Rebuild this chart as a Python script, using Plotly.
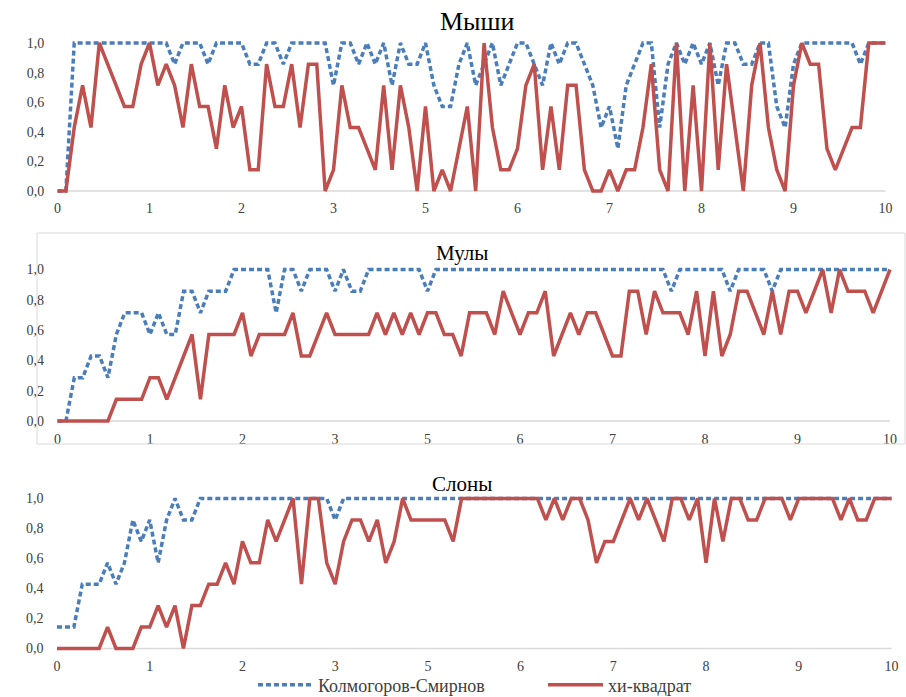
import plotly.graph_objects as go

# ---------------- data ----------------
x_index = list(range(100))
x_tick_pos = [0, 11, 22, 33, 44, 55, 66, 77, 88, 99]
x_tick_text = ["0", "1", "2", "3", "5", "6", "7", "8", "9", "10"]
y_tick_vals = [0, 0.2, 0.4, 0.6, 0.8, 1.0]
y_tick_text = ["0,0", "0,2", "0,4", "0,6", "0,8", "1,0"]

panel_titles = ["Мыши", "Мулы", "Слоны"]
series_names = ["Колмогоров-Смирнов", "хи-квадрат"]

mice_ks = [0, 0, 1, 1, 1, 1, 1, 1, 1, 1,
           1, 1, 1, 1, .857, 1, 1, 1, .857, 1,
           1, 1, 1, .857, .857, 1, 1, .857, 1, 1,
           1, 1, 1, .714, 1, 1, .857, 1, .857, 1,
           .714, 1, .857, .857, 1, .714, .571, .571, .857, 1,
           .714, .857, 1, .714, .857, 1, 1, .857, .714, 1,
           .857, 1, 1, .857, .714, .429, .571, .286, .714, .857,
           1, 1, .429, .857, 1, .857, 1, .857, 1, .714,
           1, 1, .857, .857, 1, 1, .571, .429, .857, 1,
           1, 1, 1, 1, 1, 1, .857, 1, 1, 1]
mice_chi = [0, 0, .429, .714, .429, 1, .857, .714, .571, .571,
            .857, 1, .714, .857, .714, .429, .857, .571, .571, .286,
            .714, .429, .571, .143, .143, .857, .571, .571, .857, .429,
            .857, .857, 0, .143, .714, .429, .429, .286, .143, .714,
            .143, .714, .429, 0, .571, 0, .143, 0, .286, .571,
            0, 1, .429, .143, .143, .286, .714, .857, .143, .571,
            .143, .714, .714, .143, 0, 0, .143, 0, .143, .143,
            .429, .857, .143, 0, 1, 0, .714, 0, 1, .143,
            .857, .429, 0, .714, 1, .429, .143, 0, .714, 1,
            .857, .857, .286, .143, .286, .429, .429, 1, 1, 1]

mules_ks = [0, 0, .286, .286, .429, .429, .286, .571, .714, .714,
            .714, .571, .714, .571, .571, .857, .857, .714, .857, .857,
            .857, 1, 1, 1, 1, 1, .714, 1, 1, .857,
            1, 1, 1, .857, 1, .857, .857, 1, 1, 1,
            1, 1, 1, 1, .857, 1, 1, 1, 1, 1,
            1, 1, 1, 1, 1, 1, 1, 1, 1, 1,
            1, 1, 1, 1, 1, 1, 1, 1, 1, 1,
            1, 1, 1, .857, 1, 1, 1, 1, 1, 1,
            .857, 1, 1, 1, 1, .857, 1, 1, 1, 1,
            1, 1, 1, 1, 1, 1, 1, 1, 1, 1]
mules_chi = [0, 0, 0, 0, 0, 0, 0, .143, .143, .143,
             .143, .286, .286, .143, .286, .429, .571, .143, .571, .571,
             .571, .571, .714, .429, .571, .571, .571, .571, .714, .429,
             .429, .571, .714, .571, .571, .571, .571, .571, .714, .571,
             .714, .571, .714, .571, .714, .714, .571, .571, .429, .714,
             .714, .714, .571, .857, .714, .571, .714, .714, .857, .429,
             .571, .714, .571, .714, .714, .571, .429, .429, .857, .857,
             .571, .857, .714, .714, .714, .571, .857, .429, .857, .429,
             .571, .857, .857, .714, .571, .857, .571, .857, .857, .714,
             .857, 1, .714, 1, .857, .857, .857, .714, .857, 1]

elephants_ks = [.143, .143, .143, .429, .429, .429, .571, .429, .571, .857,
                .714, .857, .571, .857, 1, .857, .857, 1, 1, 1,
                1, 1, 1, 1, 1, 1, 1, 1, 1, 1,
                1, 1, 1, .857, 1, 1, 1, 1, 1, 1,
                1, 1, 1, 1, 1, 1, 1, 1, 1, 1,
                1, 1, 1, 1, 1, 1, 1, 1, 1, 1,
                1, 1, 1, 1, 1, 1, 1, 1, 1, 1,
                1, 1, 1, 1, 1, 1, 1, 1, 1, 1,
                1, 1, 1, 1, 1, 1, 1, 1, 1, 1,
                1, 1, 1, 1, 1, 1, 1, 1, 1, 1]
elephants_chi = [0, 0, 0, 0, 0, 0, .143, 0, 0, 0,
                 .143, .143, .286, .143, .286, 0, .286, .286, .429, .429,
                 .571, .429, .714, .571, .571, .857, .714, .857, 1, .429,
                 1, 1, .571, .429, .714, .857, .857, .714, .857, .571,
                 .714, 1, .857, .857, .857, .857, .857, .714, 1, 1,
                 1, 1, 1, 1, 1, 1, 1, 1, .857, 1,
                 .857, 1, 1, .857, .571, .714, .714, .857, 1, .857,
                 1, .857, .714, 1, 1, .857, 1, .571, 1, .714,
                 1, 1, .857, .857, 1, 1, 1, .857, 1, 1,
                 1, 1, 1, .857, 1, .857, .857, 1, 1, 1]

panel_data = [(mice_ks, mice_chi), (mules_ks, mules_chi), (elephants_ks, elephants_chi)]

# ---------------- style / geometry ----------------
W, H = 906, 697
BLUE = "#4A7EBB"
RED = "#C0504D"
SERIF = "Liberation Serif"
TXT = "#404040"


def fx(px):
    return px / W


def fy(py):
    return 1 - py / H


# pixel geometry of each plot area: (x of first point, x of last point, y of 0, y of 1)
geom = [(57.5, 885.5, 191.0, 43.0),
        (57.5, 890.0, 421.0, 269.5),
        (57.0, 891.5, 648.5, 498.5)]
title_pos = [(477, 21, 26), (462, 253, 21), (462, 484, 21)]
XPAD, YPAD = 1.0, 0.05

fig = go.Figure()
layout = dict(width=W, height=H, margin=dict(l=0, r=0, t=0, b=0, autoexpand=False),
              paper_bgcolor="white", plot_bgcolor="white",
              showlegend=True, annotations=[], shapes=[])

for p, ((ks, chi), (gx0, gx1, gy0, gy1)) in enumerate(zip(panel_data, geom)):
    n = p + 1
    xs = "x" if n == 1 else f"x{n}"
    ys = "y" if n == 1 else f"y{n}"
    ppx = (gx1 - gx0) / (len(x_index) - 1)
    ppy = (gy0 - gy1)
    left = gx0 - XPAD * ppx
    right = gx1 + XPAD * ppx
    bottom = gy0 + YPAD * ppy
    top = gy1 - YPAD * ppy
    xa = dict(domain=[fx(left), fx(right)], range=[-XPAD, len(x_index) - 1 + XPAD],
              anchor=ys, tickvals=x_tick_pos, ticktext=x_tick_text,
              showgrid=False, zeroline=False, showline=False, ticks="",
              tickfont=dict(family=SERIF, size=14, color=TXT))
    ya = dict(domain=[fy(bottom), fy(top)], range=[-YPAD, 1 + YPAD],
              anchor=xs, tickvals=y_tick_vals, ticktext=y_tick_text,
              showgrid=False, zeroline=False, showline=False, ticks="",
              ticklabelstandoff=4,
              tickfont=dict(family=SERIF, size=14, color=TXT))
    layout["xaxis" if n == 1 else f"xaxis{n}"] = xa
    layout["yaxis" if n == 1 else f"yaxis{n}"] = ya
    # horizontal axis line at 0
    layout["shapes"].append(dict(type="line", xref=xs, yref=ys, x0=0, x1=len(x_index) - 1,
                                 y0=0, y1=0, line=dict(color="#D9D9D9", width=1.5), layer="below"))
    fig.add_trace(go.Scatter(x=x_index, y=ks, xaxis=xs, yaxis=ys, mode="lines",
                             name=series_names[0], legend="legend", showlegend=(n == 1),
                             line=dict(color=BLUE, width=3.5, dash="5px,3px")))
    fig.add_trace(go.Scatter(x=x_index, y=chi, xaxis=xs, yaxis=ys, mode="lines",
                             name=series_names[1], legend="legend2", showlegend=(n == 1),
                             line=dict(color=RED, width=3.5)))
    tx, ty, tsz = title_pos[p]
    layout["annotations"].append(dict(text=panel_titles[p], x=fx(tx), y=fy(ty),
                                      xref="paper", yref="paper", showarrow=False,
                                      xanchor="center", yanchor="middle",
                                      font=dict(family=SERIF, size=tsz, color="#000000")))

# frame around middle chart
layout["shapes"].append(dict(type="rect", xref="paper", yref="paper",
                             x0=fx(37), x1=fx(905), y0=fy(444), y1=fy(233),
                             line=dict(color="#D9D9D9", width=1)))

legend_common = dict(orientation="h", xanchor="left", y=fy(685), yanchor="middle",
                     font=dict(family=SERIF, size=18, color=TXT),
                     itemwidth=55, bgcolor="rgba(0,0,0,0)")
layout["legend"] = dict(x=fx(253), **legend_common)
layout["legend2"] = dict(x=fx(543), **legend_common)

fig.update_layout(**layout)
# the page body has a default 8px margin; remove it so the figure fills the window exactly
fig.write_html("out.html", config={"displayModeBar": False},
               post_script="document.body.style.margin='0';")
